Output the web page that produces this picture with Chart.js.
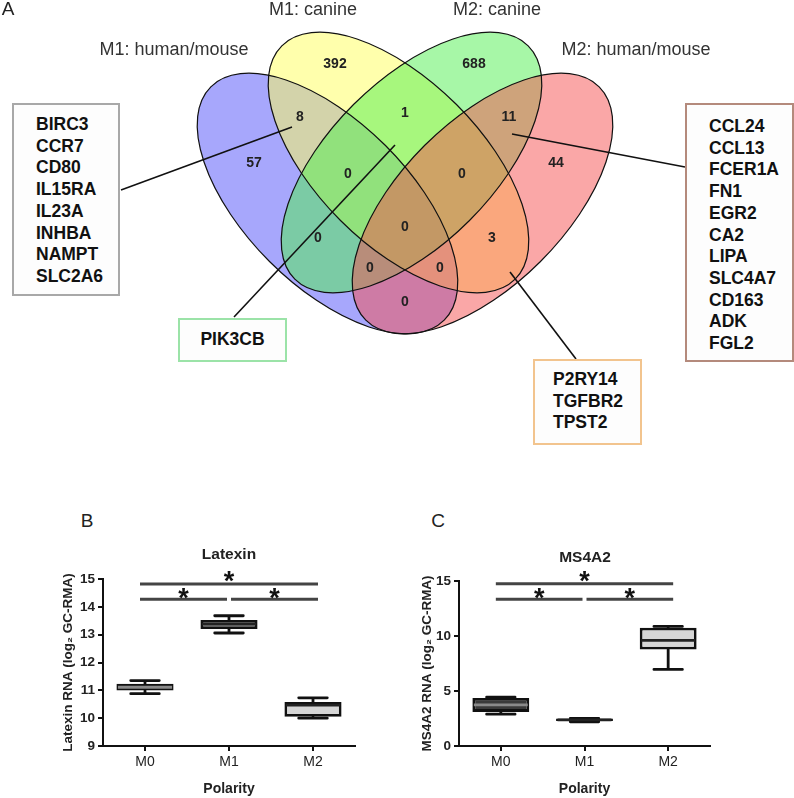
<!DOCTYPE html>
<html>
<head>
<meta charset="utf-8">
<script src="https://cdn.jsdelivr.net/npm/chart.js@4.4.1/dist/chart.umd.min.js"></script>
<style>
  body { margin: 0; background: #fff; font-family: "Liberation Sans", Arial, sans-serif; }
  #fig { position: relative; width: 794px; height: 798px; overflow: hidden; background: #fff; }
  canvas { position: absolute; }
  .lbl { position: absolute; white-space: nowrap; transform: translate(-50%, -50%); color: #333; font-size: 18px; line-height: 1; }
  .panel { position: absolute; transform: translate(-50%, -50%); font-size: 19px; line-height: 1; color: #222; }
  .ttl { position: absolute; transform: translate(-50%, -50%); font-weight: bold; font-size: 15.5px; line-height: 1; color: #222; }
  .genes { position: absolute; box-sizing: border-box; border: 2px solid #aaa; background: #fdfdfd;
           font-weight: bold; font-size: 17.5px; line-height: 21.7px; color: #111; white-space: nowrap; }
</style>
</head>
<body>
<div id="fig">
  <canvas id="venn" width="794" height="470" style="left:0;top:0"></canvas>
  <canvas id="latexin" width="397" height="258" style="left:0;top:540px"></canvas>
  <canvas id="ms4a2" width="397" height="258" style="left:397px;top:540px"></canvas>
</div>
<script>
// ---- Datos del diagrama de Venn ----
const setNames = ["M1: human/mouse", "M1: canine", "M2: canine", "M2: human/mouse"];
// A = M1 human/mouse, B = M1 canine, C = M2 canine, D = M2 human/mouse
const regionKeys = ["A", "B", "C", "D", "AB", "BC", "CD", "ABC", "BCD", "AC", "BD", "ABCD", "ACD", "ABD", "AD"];
const regionCounts = [57, 392, 688, 44, 8, 1, 11, 0, 0, 0, 3, 0, 0, 0, 0];
const genesAB = ["BIRC3", "CCR7", "CD80", "IL15RA", "IL23A", "INHBA", "NAMPT", "SLC2A6"];
const genesBC = ["PIK3CB"];
const genesCD = ["CCL24", "CCL13", "FCER1A", "FN1", "EGR2", "CA2", "LIPA", "SLC4A7", "CD163", "ADK", "FGL2"];
const genesBD = ["P2RY14", "TGFBR2", "TPST2"];

// ---- Datos de los box plots ----
const polarity = ["M0", "M1", "M2"];
const latexinMin    = [10.88, 13.06, 10.00];
const latexinQ1     = [10.99, 13.20, 10.05];
const latexinMedian = [11.11, 13.38, 10.47];
const latexinQ3     = [11.24, 13.53, 10.58];
const latexinMax    = [11.35, 13.68, 10.73];
const latexinTicks  = { min: 9, max: 15, step: 1 };
const latexinSig    = [14.82, 14.27, 14.27];

const ms4a2Min    = [2.89, 2.20, 6.96];
const ms4a2Q1     = [3.10, 2.28, 8.77];
const ms4a2Median = [3.73, 2.38, 9.61];
const ms4a2Q3     = [4.37, 2.50, 10.75];
const ms4a2Max    = [4.43, 2.52, 10.87];
const ms4a2Ticks  = { min: 0, max: 15, step: 5 };
const ms4a2Sig    = [14.76, 13.34, 13.34];

const sigPairs = [[0, 2], [0, 1], [1, 2]];

// ---- Layout (posiciones en unidades del lienzo del Venn) ----
const FONT = '"Liberation Sans", Arial, sans-serif';
Chart.defaults.font.family = FONT;

const semiMajor = 165, semiMinor = 82;
const ellipses = [
  { cx: 327.5, cy: 203.5, rot: 45,  fill: "rgba(80,80,250,0.5)" },
  { cx: 398.5, cy: 162.5, rot: 45,  fill: "rgba(255,255,90,0.5)" },
  { cx: 411.5, cy: 162.5, rot: -45, fill: "rgba(80,240,80,0.5)" },
  { cx: 482.5, cy: 203.5, rot: -45, fill: "rgba(245,80,80,0.5)" }
];
const regionPos = {
  A: [254, 163], B: [335, 64], C: [474, 64], D: [556, 163],
  AB: [300, 117], BC: [405, 113], CD: [509, 117],
  ABC: [348, 174], BCD: [462, 174], AC: [318, 238], BD: [492, 238],
  ABCD: [405, 227], ACD: [370, 268], ABD: [440, 268], AD: [405, 302]
};
const setLabelPos = [[174, 49], [313, 9], [497, 9], [636, 49]];
const geneBoxes = [
  { genes: genesAB, left: 12, top: 103, w: 108, h: 193, border: "#a8a8a8", padT: 9, padL: 22, center: false },
  { genes: genesBC, left: 178, top: 318, w: 109, h: 44, border: "#9be3a8", padT: 9, padL: 0, center: true },
  { genes: genesCD, left: 685, top: 103, w: 109, h: 259, border: "#b48a7c", padT: 11, padL: 22, center: false },
  { genes: genesBD, left: 533, top: 359, w: 109, h: 86, border: "#f2c48e", padT: 8, padL: 18, center: false }
];
const connectors = [
  [[121, 190], [292, 127]],
  [[234, 317], [395, 145]],
  [[685, 167], [512, 134]],
  [[576, 359], [510, 272]]
];

const fig = document.getElementById("fig");
function addText(cls, text, x, y) {
  const d = document.createElement("div");
  d.className = cls;
  d.textContent = text;
  d.style.left = x + "px";
  d.style.top = y + "px";
  fig.appendChild(d);
}

addText("panel", "A", 8, 8);
addText("panel", "B", 87, 520);
addText("panel", "C", 438, 520);
setNames.forEach((n, i) => addText("lbl", n, setLabelPos[i][0], setLabelPos[i][1]));
addText("ttl", "Latexin", 229, 554);
addText("ttl", "MS4A2", 585, 557);

geneBoxes.forEach(b => {
  const d = document.createElement("div");
  d.className = "genes";
  Object.assign(d.style, {
    left: b.left + "px", top: b.top + "px", width: b.w + "px", height: b.h + "px",
    borderColor: b.border, paddingTop: b.padT + "px", paddingLeft: b.padL + "px",
    textAlign: b.center ? "center" : "left"
  });
  d.innerHTML = b.genes.join("<br>");
  fig.appendChild(d);
});

// ---- Venn ----
const vennPlugin = {
  id: "venn",
  beforeDatasetsDraw(chart) {
    const { ctx, scales: { x, y } } = chart;
    ctx.save();
    const path = e => {
      const px = x.getPixelForValue(e.cx), py = y.getPixelForValue(e.cy);
      const rx = Math.abs(x.getPixelForValue(e.cx + semiMajor) - px);
      const ry = Math.abs(y.getPixelForValue(e.cy + semiMinor) - py);
      ctx.beginPath();
      ctx.ellipse(px, py, rx, ry, e.rot * Math.PI / 180, 0, 2 * Math.PI);
    };
    ellipses.forEach(e => { path(e); ctx.fillStyle = e.fill; ctx.fill(); });
    ctx.strokeStyle = "#111";
    ctx.lineWidth = 1.2;
    ellipses.forEach(e => { path(e); ctx.stroke(); });
    ctx.lineWidth = 1.6;
    connectors.forEach(([a, b]) => {
      ctx.beginPath();
      ctx.moveTo(x.getPixelForValue(a[0]), y.getPixelForValue(a[1]));
      ctx.lineTo(x.getPixelForValue(b[0]), y.getPixelForValue(b[1]));
      ctx.stroke();
    });
    ctx.restore();
  },
  afterDatasetsDraw(chart) {
    const ctx = chart.ctx;
    const meta = chart.getDatasetMeta(0);
    ctx.save();
    ctx.fillStyle = "#222";
    ctx.font = "bold 14px " + FONT;
    ctx.textAlign = "center";
    ctx.textBaseline = "middle";
    meta.data.forEach((pt, i) => ctx.fillText(String(regionCounts[i]), pt.x, pt.y));
    ctx.restore();
  }
};

new Chart(document.getElementById("venn"), {
  type: "scatter",
  data: {
    datasets: [{
      data: regionKeys.map(k => ({ x: regionPos[k][0], y: regionPos[k][1] })),
      pointRadius: 0
    }]
  },
  options: {
    responsive: false,
    animation: false,
    layout: { padding: 0 },
    plugins: { legend: { display: false }, tooltip: { enabled: false } },
    scales: {
      x: { type: "linear", min: 0, max: 794, display: false },
      y: { type: "linear", min: 0, max: 470, reverse: true, display: false }
    }
  },
  plugins: [vennPlugin]
});

// ---- Box plots ----
const boxFills = ["#3a3a3a", "#9a9a9a", "#d6d6d6"];
const medianColors = ["#8a8a8a", "#222", "#222"];

function boxPlot(id, st, ticks, sig, yTitle, pad, yWidth) {
  const plugin = {
    id: "box_" + id,
    beforeDatasetsDraw(chart) {
      // bigotes
      const { ctx, scales: { y } } = chart;
      const meta = chart.getDatasetMeta(0);
      ctx.save();
      ctx.strokeStyle = "#111";
      ctx.lineWidth = 2.8;
      ctx.lineCap = "round";
      meta.data.forEach((el, i) => {
        const cap = el.width * 0.5;
        [[st.q3[i], st.max[i]], [st.q1[i], st.min[i]]].forEach(([from, to]) => {
          ctx.beginPath();
          ctx.moveTo(el.x, y.getPixelForValue(from));
          ctx.lineTo(el.x, y.getPixelForValue(to));
          ctx.moveTo(el.x - cap / 2, y.getPixelForValue(to));
          ctx.lineTo(el.x + cap / 2, y.getPixelForValue(to));
          ctx.stroke();
        });
      });
      ctx.restore();
    },
    afterDatasetsDraw(chart) {
      const { ctx, scales: { x, y } } = chart;
      const meta = chart.getDatasetMeta(0);
      ctx.save();
      ctx.lineWidth = 2.8;
      meta.data.forEach((el, i) => {
        const yy = y.getPixelForValue(st.median[i]);
        ctx.strokeStyle = medianColors[i];
        ctx.beginPath();
        ctx.moveTo(el.x - el.width / 2 + 1.5, yy);
        ctx.lineTo(el.x + el.width / 2 - 1.5, yy);
        ctx.stroke();
      });
      // barras de significancia
      ctx.strokeStyle = "#444";
      ctx.lineWidth = 3;
      ctx.fillStyle = "#111";
      ctx.font = "bold 27px " + FONT;
      ctx.textAlign = "center";
      ctx.textBaseline = "alphabetic";
      sigPairs.forEach(([a, b], k) => {
        const yy = y.getPixelForValue(sig[k]);
        const x1 = x.getPixelForValue(a) + (a === 1 ? 2 : -5);
        const x2 = x.getPixelForValue(b) + (b === 1 ? -2 : 5);
        ctx.beginPath();
        ctx.moveTo(x1, yy);
        ctx.lineTo(x2, yy);
        ctx.stroke();
        ctx.fillText("*", (x1 + x2) / 2, yy + (k === 0 ? 6 : 8));
      });
      ctx.restore();
    }
  };

  const axisGrid = { display: true, drawOnChartArea: false, color: "#111", lineWidth: 2, tickLength: 5 };
  new Chart(document.getElementById(id), {
    type: "bar",
    data: {
      labels: polarity,
      datasets: [{
        data: polarity.map((_, i) => [st.q1[i], st.q3[i]]),
        backgroundColor: boxFills,
        borderColor: "#111",
        borderWidth: 2.8,
        borderSkipped: false,
        barPercentage: 0.68,
        categoryPercentage: 1
      }]
    },
    options: {
      responsive: false,
      animation: false,
      layout: { padding: pad },
      plugins: { legend: { display: false }, tooltip: { enabled: false } },
      scales: {
        x: {
          grid: Object.assign({ offset: false }, axisGrid),
          border: { color: "#111", width: 2 },
          ticks: { color: "#222", font: { size: 14 }, padding: 3 },
          title: { display: true, text: "Polarity", color: "#222", font: { size: 14, weight: "bold" }, padding: { top: 0, bottom: 0 } },
          afterFit(s) { s.height = 52; }
        },
        y: {
          min: ticks.min, max: ticks.max,
          grid: axisGrid,
          border: { color: "#111", width: 2 },
          ticks: { stepSize: ticks.step, color: "#222", font: { size: 13.5, weight: "bold" }, padding: 3 },
          title: { display: true, text: yTitle, color: "#222", font: { size: 13.5, weight: "bold" }, padding: { top: 4, bottom: 0 } },
          afterFit(s) { s.width = yWidth; }
        }
      }
    },
    plugins: [plugin]
  });
}

boxPlot("latexin",
  { min: latexinMin, q1: latexinQ1, median: latexinMedian, q3: latexinQ3, max: latexinMax },
  latexinTicks, latexinSig, "Latexin RNA (log\u2082 GC-RMA)",
  { left: 56, right: 42, top: 39, bottom: 0 }, 47);

boxPlot("ms4a2",
  { min: ms4a2Min, q1: ms4a2Q1, median: ms4a2Median, q3: ms4a2Q3, max: ms4a2Max },
  ms4a2Ticks, ms4a2Sig, "MS4A2 RNA (log\u2082 GC-RMA)",
  { left: 18, right: 84, top: 41, bottom: 0 }, 44);
</script>
</body>
</html>
